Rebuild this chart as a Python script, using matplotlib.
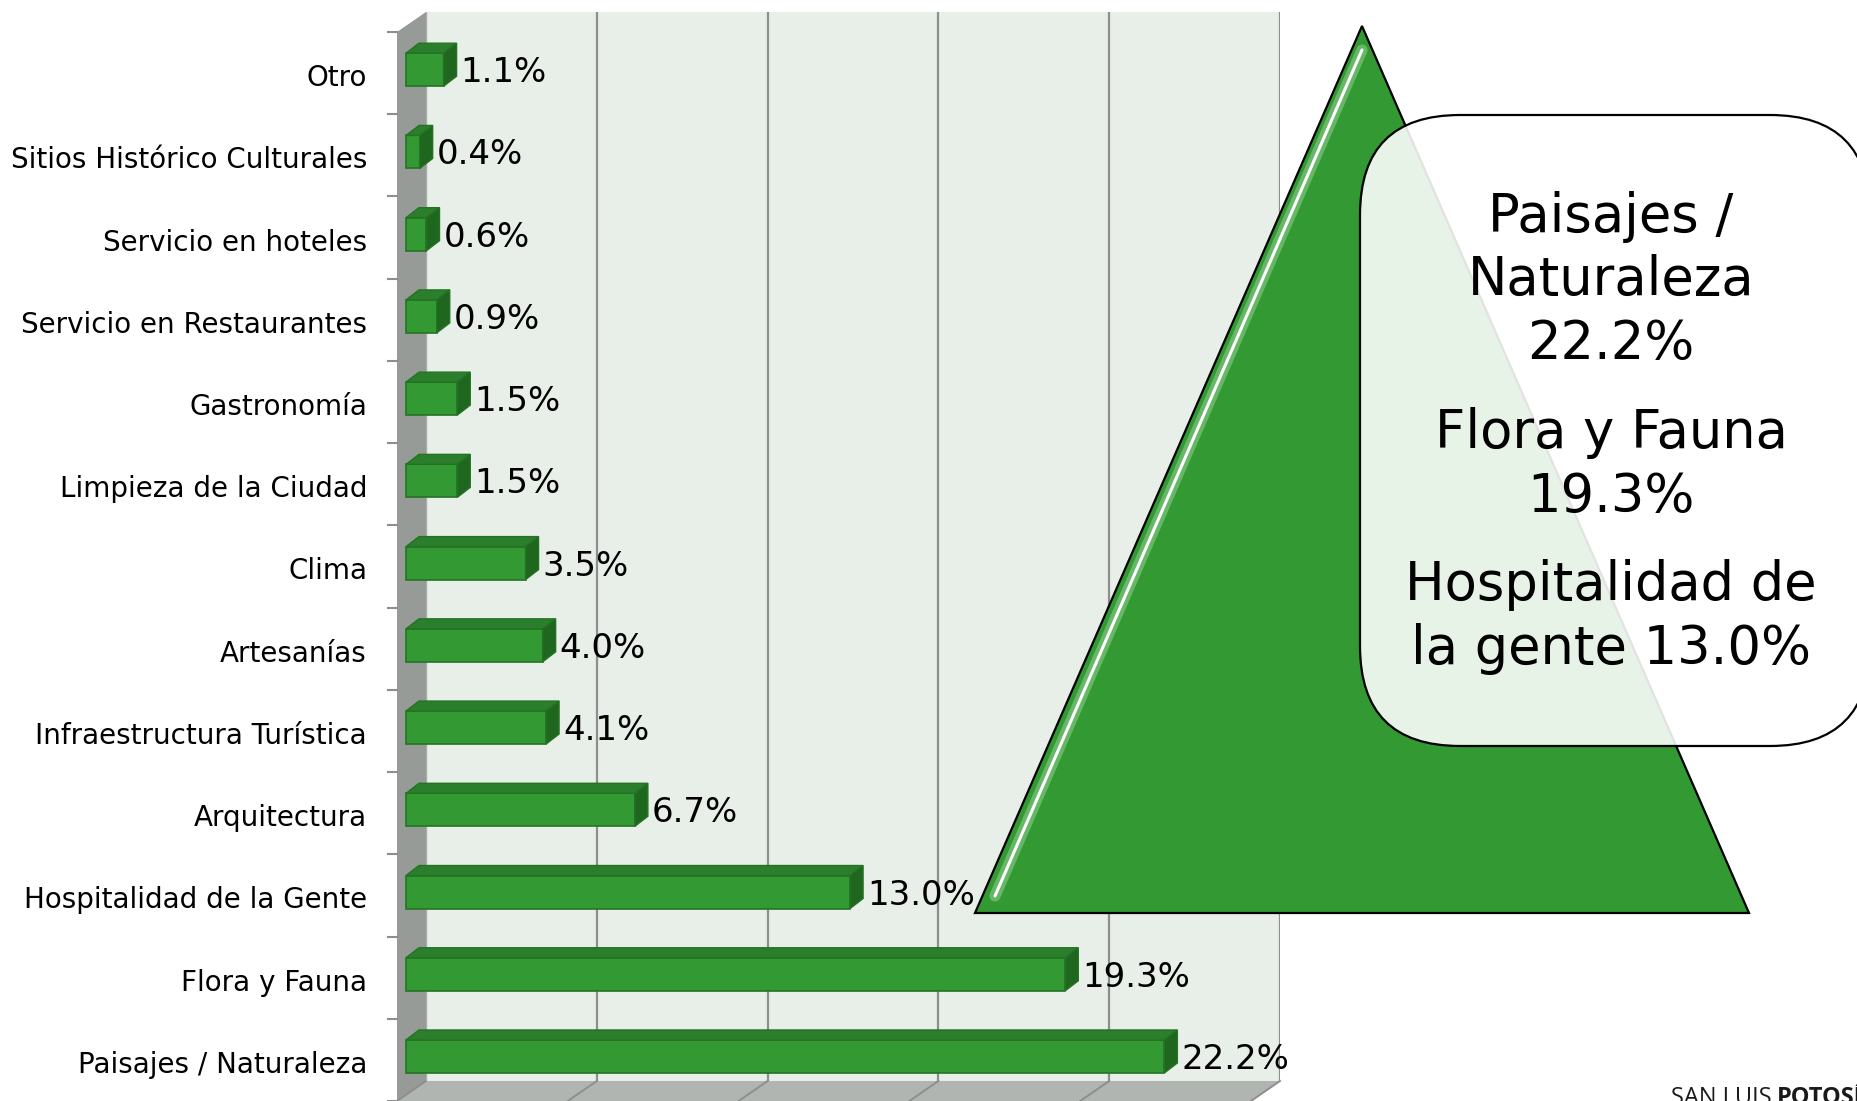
import matplotlib
matplotlib.use("Agg")
import matplotlib.pyplot as plt
from matplotlib.patches import Polygon, FancyBboxPatch

# ---------------- data ----------------
categories = ["Otro", "Sitios Histórico Culturales", "Servicio en hoteles",
              "Servicio en Restaurantes", "Gastronomía", "Limpieza de la Ciudad",
              "Clima", "Artesanías", "Infraestructura Turística", "Arquitectura",
              "Hospitalidad de la Gente", "Flora y Fauna", "Paisajes / Naturaleza"]
values = [1.1, 0.4, 0.6, 0.9, 1.5, 1.5, 3.5, 4.0, 4.1, 6.7, 13.0, 19.3, 22.2]
value_labels = [f"{v:.1f}%" for v in values]
x_ticks = [0, 5, 10, 15, 20, 25]
highlight_lines = ["Paisajes /", "Naturaleza", "22.2%",
                   "Flora y Fauna", "19.3%",
                   "Hospitalidad de", "la gente 13.0%"]

# ---------------- figure ----------------
W, H = 1857, 1101
fig = plt.figure(figsize=(W / 100, H / 100), dpi=100)
fig.patch.set_facecolor("white")
plt.rcParams["font.family"] = ["DejaVu Sans"]

AX_L, AX_R, AX_T, AX_B = 426, 1280, 12, 1081
ax = fig.add_axes([AX_L / W, 1 - AX_B / H, (AX_R - AX_L) / W, (AX_B - AX_T) / H])
n = len(categories)
ax.set_xlim(x_ticks[0], x_ticks[-1])
ax.set_ylim(-0.5, n - 0.5)
ax.set_facecolor("#e8eee8")
for s in ax.spines.values():
    s.set_visible(False)
ax.set_xticks([])
ax.set_yticks([])

PX = (AX_R - AX_L) / (x_ticks[-1] - x_ticks[0])   # pixels per % unit
PY = (AX_B - AX_T) / n                             # pixels per category
DX, DY = -29 / PX, -20 / PY                        # depth offset (front plane)

GRID = "#8e8e8e"
for xv in x_ticks[1:]:
    ax.axvline(xv, color=GRID, lw=1.6, zorder=1)

# side wall and floor
ax.add_patch(Polygon([(0, -0.5), (0, n - 0.5), (DX, n - 0.5 + DY), (DX, -0.5 + DY)],
                     closed=True, fc="#979b97", ec="none", clip_on=False, zorder=1))
ax.add_patch(Polygon([(0, -0.5), (x_ticks[-1], -0.5), (x_ticks[-1] + DX, -0.5 + DY), (DX, -0.5 + DY)],
                     closed=True, fc="#b1b5b1", ec="none", clip_on=False, zorder=1))
for xv in x_ticks:
    ax.plot([xv, xv + DX], [-0.5, -0.5 + DY], color=GRID, lw=1.4, clip_on=False, zorder=1.5)
ax.plot([0, 0], [-0.5, n - 0.5], color="#a9ada9", lw=1.0, zorder=1.6)

# category ticks on front edge
for k in range(n + 1):
    yb = n - 0.5 - k + DY
    ax.plot([DX - 9 / PX, DX], [yb, yb], color=GRID, lw=1.5, clip_on=False, zorder=1.5)

# bars
ypos = [n - 1 - i for i in range(n)]
L0 = -20 / PX
BH = 33 / PY
yfront = [y - 16.6 / PY for y in ypos]
FRONT, TOP, SIDE, EDGE = "#339933", "#2b7e2b", "#1f661f", "#247324"
ax.barh(yfront, values, left=L0, height=BH, color=FRONT, edgecolor=EDGE,
        linewidth=1.2, clip_on=False, zorder=3)
ox, oy = 13 / PX, 10 / PY
for v, yf in zip(values, yfront):
    top, bot = yf + BH / 2, yf - BH / 2
    r = L0 + v
    ax.add_patch(Polygon([(L0, top), (r, top), (r + ox, top + oy), (L0 + ox, top + oy)],
                         closed=True, fc=TOP, ec=EDGE, lw=1.0, clip_on=False, zorder=3))
    ax.add_patch(Polygon([(r, bot), (r, top), (r + ox, top + oy), (r + ox, bot + oy)],
                         closed=True, fc=SIDE, ec=EDGE, lw=1.0, clip_on=False, zorder=3))

# value labels
for v, yf, lab in zip(values, yfront, value_labels):
    ax.text(L0 + v + ox + 4 / PX, yf - 12.5 / PY, lab, ha="left", va="baseline",
            fontsize=24.5, color="black", clip_on=False, zorder=4)

# category labels
for y, cat in zip(ypos, categories):
    ax.text(DX - 30 / PX, y + DY - 13 / PY, cat, ha="right", va="baseline",
            fontsize=20, color="black", clip_on=False, zorder=4)

# ---------------- overlay: triangle + callout ----------------
ov = fig.add_axes([0, 0, 1, 1])
ov.set_xlim(0, W)
ov.set_ylim(H, 0)
ov.axis("off")

ov.add_patch(Polygon([(1362, 26), (975, 913), (1749, 913)], closed=True,
                     fc="#339933", ec="black", lw=1.6, zorder=2))
ov.plot([1362, 995], [50, 896], color="#9ad69a", lw=8, alpha=0.5,
        solid_capstyle="round", zorder=3)
ov.plot([1362, 995], [50, 896], color="white", lw=2.2, solid_capstyle="round", zorder=3)

ov.add_patch(FancyBboxPatch((1360, 115), 510, 631,
                            boxstyle="round,pad=0,rounding_size=100",
                            fc=(1, 1, 1, 0.89), ec="black", lw=1.6, zorder=4))

baselines = [232, 295, 359, 448, 512, 600, 664]
for line, yb in zip(highlight_lines, baselines):
    ov.text(1611, yb, line, ha="center", va="baseline", fontsize=38,
            color="black", zorder=5)

ov.text(1671, 1104, "SAN LUIS ", ha="left", va="baseline", fontsize=17,
        family=["Open Sans", "DejaVu Sans"], color="#1a1a1a", zorder=5)
ov.text(1777, 1104, "POTOSÍ", ha="left", va="baseline", fontsize=17,
        family=["Open Sans", "DejaVu Sans"], fontweight="bold", color="#1a1a1a", zorder=5)

fig.savefig("out.png", dpi=100, facecolor="white")
